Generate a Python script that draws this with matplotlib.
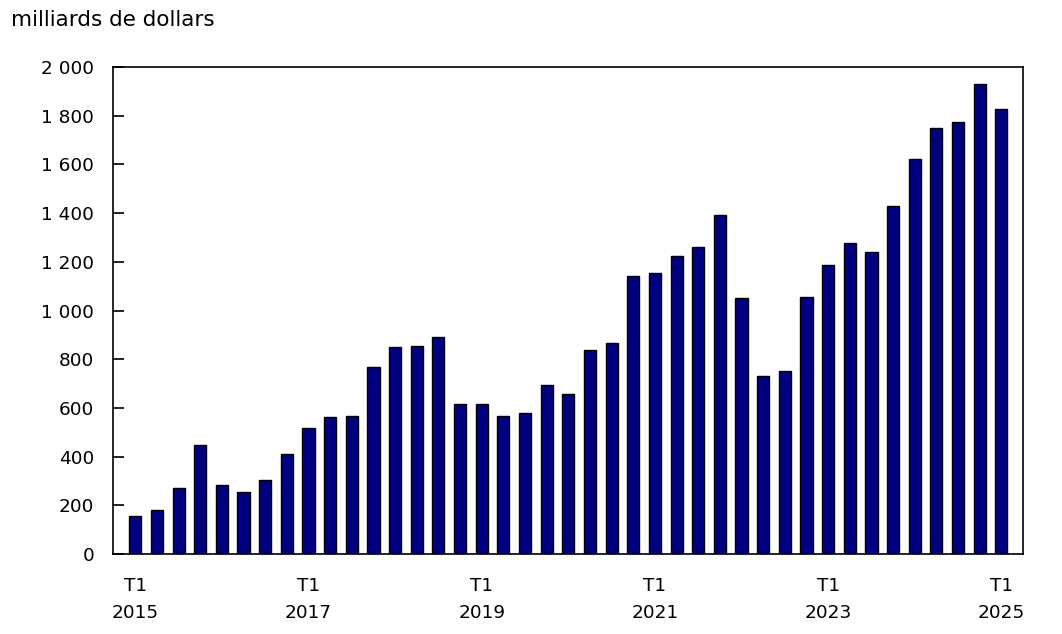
import matplotlib
matplotlib.use("Agg")
import matplotlib.pyplot as plt
import numpy as np

plt.rcParams['font.family'] = ['DejaVu Sans']

quarters = [f"T{q}" for y in range(2015, 2026) for q in range(1, 5)][:41]
years = [y for y in range(2015, 2026) for q in range(1, 5)][:41]
values = [155, 181, 272, 449,
          285, 256, 304, 409,
          519, 564, 568, 769,
          849, 853, 890, 617,
          615, 565, 578, 694,
          658, 838, 867, 1140,
          1155, 1222, 1262, 1394,
          1053, 732, 753, 1057,
          1187, 1279, 1240, 1428,
          1622, 1750, 1773, 1931,
          1829]
y_ticks = [0, 200, 400, 600, 800, 1000, 1200, 1400, 1600, 1800, 2000]
y_labels = ["0", "200", "400", "600", "800", "1 000", "1 200", "1 400", "1 600", "1 800", "2 000"]
ylabel = "milliards de dollars"

fig = plt.figure(figsize=(10.62, 6.34), dpi=100)
ax = fig.add_axes([113/1062, 1-554/634, 910/1062, 487/634])

x = np.arange(len(values))
ax.bar(x, values, width=0.56, color="#000080", edgecolor="black", linewidth=1.0)

ax.set_xlim(-1.03, 41.0)
ax.set_ylim(0, 2000)
ax.set_yticks(y_ticks)
ax.set_yticklabels(y_labels, fontsize=13.3)
ax.tick_params(axis='y', direction='in', length=8, width=1.2, pad=13.5, color='black')

xt = [i for i in range(len(values)) if quarters[i] == "T1" and (years[i] - 2015) % 2 == 0]
ax.set_xticks(xt)
ax.set_xticklabels([f"{quarters[i]}\n{years[i]}" for i in xt], fontsize=13.3, linespacing=1.65)
ax.tick_params(axis='x', length=0, pad=16.5)

for s in ax.spines.values():
    s.set_linewidth(1.2)
    s.set_color('black')

fig.text(11/1062, 1-20/634, ylabel, fontsize=15.5, ha='left', va='center')

fig.savefig("out.png", dpi=100)
